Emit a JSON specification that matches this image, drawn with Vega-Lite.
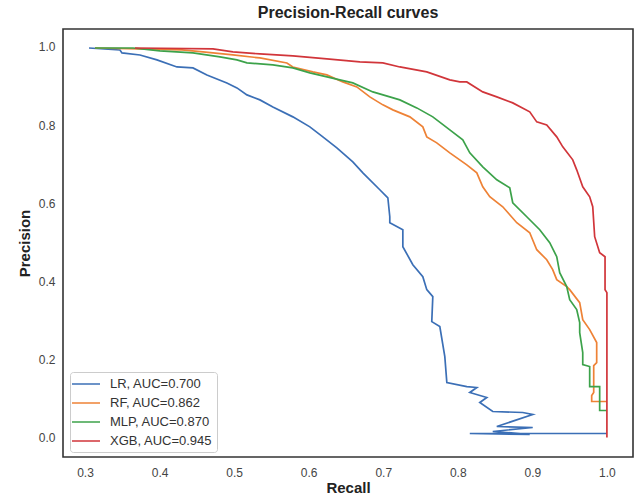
{
  "$schema": "https://vega.github.io/schema/vega-lite/v6.json",
  "width": 570,
  "height": 428,
  "autosize": "none",
  "padding": {"left": 63, "top": 29, "right": 2, "bottom": 43},
  "background": "white",
  "config": {
    "font": "Liberation Sans",
    "view": {"stroke": "#333333", "strokeWidth": 1.6},
    "axis": {"grid": false, "ticks": false, "domain": false, "labelFont": "Liberation Sans", "labelFontSize": 12, "labelColor": "#444444", "titleFont": "Liberation Sans", "titleFontSize": 15, "titleFontWeight": "bold", "titleColor": "#222222"}
  },
  "title": {"text": "Precision-Recall curves", "font": "Liberation Sans", "fontSize": 16, "fontWeight": "bold", "color": "#222222", "offset": 8},
  "data": {"values": [
    {"model": "LR, AUC=0.700", "i": 1, "recall": 0.3054, "precision": 0.9974},
    {"model": "LR, AUC=0.700", "i": 2, "recall": 0.3469, "precision": 0.9923},
    {"model": "LR, AUC=0.700", "i": 3, "recall": 0.3496, "precision": 0.9847},
    {"model": "LR, AUC=0.700", "i": 4, "recall": 0.3737, "precision": 0.9795},
    {"model": "LR, AUC=0.700", "i": 5, "recall": 0.3965, "precision": 0.9668},
    {"model": "LR, AUC=0.700", "i": 6, "recall": 0.4233, "precision": 0.9488},
    {"model": "LR, AUC=0.700", "i": 7, "recall": 0.4448, "precision": 0.9463},
    {"model": "LR, AUC=0.700", "i": 8, "recall": 0.4635, "precision": 0.9284},
    {"model": "LR, AUC=0.700", "i": 9, "recall": 0.4903, "precision": 0.9079},
    {"model": "LR, AUC=0.700", "i": 10, "recall": 0.5038, "precision": 0.8951},
    {"model": "LR, AUC=0.700", "i": 11, "recall": 0.5172, "precision": 0.8772},
    {"model": "LR, AUC=0.700", "i": 12, "recall": 0.5346, "precision": 0.8645},
    {"model": "LR, AUC=0.700", "i": 13, "recall": 0.5520, "precision": 0.8465},
    {"model": "LR, AUC=0.700", "i": 14, "recall": 0.5788, "precision": 0.8210},
    {"model": "LR, AUC=0.700", "i": 15, "recall": 0.6016, "precision": 0.7954},
    {"model": "LR, AUC=0.700", "i": 16, "recall": 0.6190, "precision": 0.7698},
    {"model": "LR, AUC=0.700", "i": 17, "recall": 0.6378, "precision": 0.7417},
    {"model": "LR, AUC=0.700", "i": 18, "recall": 0.6592, "precision": 0.7059},
    {"model": "LR, AUC=0.700", "i": 19, "recall": 0.6727, "precision": 0.6777},
    {"model": "LR, AUC=0.700", "i": 20, "recall": 0.6954, "precision": 0.6343},
    {"model": "LR, AUC=0.700", "i": 21, "recall": 0.7062, "precision": 0.6138},
    {"model": "LR, AUC=0.700", "i": 22, "recall": 0.7088, "precision": 0.5652},
    {"model": "LR, AUC=0.700", "i": 23, "recall": 0.7088, "precision": 0.5499},
    {"model": "LR, AUC=0.700", "i": 24, "recall": 0.7263, "precision": 0.5320},
    {"model": "LR, AUC=0.700", "i": 25, "recall": 0.7263, "precision": 0.4885},
    {"model": "LR, AUC=0.700", "i": 26, "recall": 0.7397, "precision": 0.4425},
    {"model": "LR, AUC=0.700", "i": 27, "recall": 0.7531, "precision": 0.4118},
    {"model": "LR, AUC=0.700", "i": 28, "recall": 0.7584, "precision": 0.3785},
    {"model": "LR, AUC=0.700", "i": 29, "recall": 0.7665, "precision": 0.3606},
    {"model": "LR, AUC=0.700", "i": 30, "recall": 0.7651, "precision": 0.2967},
    {"model": "LR, AUC=0.700", "i": 31, "recall": 0.7759, "precision": 0.2839},
    {"model": "LR, AUC=0.700", "i": 32, "recall": 0.7826, "precision": 0.2072},
    {"model": "LR, AUC=0.700", "i": 33, "recall": 0.7853, "precision": 0.1407},
    {"model": "LR, AUC=0.700", "i": 34, "recall": 0.8121, "precision": 0.1304},
    {"model": "LR, AUC=0.700", "i": 35, "recall": 0.8255, "precision": 0.1279},
    {"model": "LR, AUC=0.700", "i": 36, "recall": 0.8161, "precision": 0.1151},
    {"model": "LR, AUC=0.700", "i": 37, "recall": 0.8389, "precision": 0.1023},
    {"model": "LR, AUC=0.700", "i": 38, "recall": 0.8295, "precision": 0.0895},
    {"model": "LR, AUC=0.700", "i": 39, "recall": 0.8469, "precision": 0.0665},
    {"model": "LR, AUC=0.700", "i": 40, "recall": 0.8871, "precision": 0.0639},
    {"model": "LR, AUC=0.700", "i": 41, "recall": 0.9005, "precision": 0.0588},
    {"model": "LR, AUC=0.700", "i": 42, "recall": 0.8523, "precision": 0.0281},
    {"model": "LR, AUC=0.700", "i": 43, "recall": 0.9005, "precision": 0.0256},
    {"model": "LR, AUC=0.700", "i": 44, "recall": 0.8469, "precision": 0.0153},
    {"model": "LR, AUC=0.700", "i": 45, "recall": 0.8965, "precision": 0.0077},
    {"model": "LR, AUC=0.700", "i": 46, "recall": 0.8161, "precision": 0.0102},
    {"model": "LR, AUC=0.700", "i": 47, "recall": 1.0, "precision": 0.0102},

    {"model": "RF, AUC=0.862", "i": 1, "recall": 0.3134, "precision": 0.9974},
    {"model": "RF, AUC=0.862", "i": 2, "recall": 0.4300, "precision": 0.9923},
    {"model": "RF, AUC=0.862", "i": 3, "recall": 0.4582, "precision": 0.9872},
    {"model": "RF, AUC=0.862", "i": 4, "recall": 0.4984, "precision": 0.9795},
    {"model": "RF, AUC=0.862", "i": 5, "recall": 0.5346, "precision": 0.9719},
    {"model": "RF, AUC=0.862", "i": 6, "recall": 0.5708, "precision": 0.9591},
    {"model": "RF, AUC=0.862", "i": 7, "recall": 0.5788, "precision": 0.9488},
    {"model": "RF, AUC=0.862", "i": 8, "recall": 0.6056, "precision": 0.9361},
    {"model": "RF, AUC=0.862", "i": 9, "recall": 0.6244, "precision": 0.9284},
    {"model": "RF, AUC=0.862", "i": 10, "recall": 0.6458, "precision": 0.9105},
    {"model": "RF, AUC=0.862", "i": 11, "recall": 0.6646, "precision": 0.8977},
    {"model": "RF, AUC=0.862", "i": 12, "recall": 0.6820, "precision": 0.8721},
    {"model": "RF, AUC=0.862", "i": 13, "recall": 0.6995, "precision": 0.8517},
    {"model": "RF, AUC=0.862", "i": 14, "recall": 0.7129, "precision": 0.8389},
    {"model": "RF, AUC=0.862", "i": 15, "recall": 0.7357, "precision": 0.8210},
    {"model": "RF, AUC=0.862", "i": 16, "recall": 0.7531, "precision": 0.7954},
    {"model": "RF, AUC=0.862", "i": 17, "recall": 0.7584, "precision": 0.7698},
    {"model": "RF, AUC=0.862", "i": 18, "recall": 0.7718, "precision": 0.7545},
    {"model": "RF, AUC=0.862", "i": 19, "recall": 0.7893, "precision": 0.7289},
    {"model": "RF, AUC=0.862", "i": 20, "recall": 0.8121, "precision": 0.6982},
    {"model": "RF, AUC=0.862", "i": 21, "recall": 0.8255, "precision": 0.6777},
    {"model": "RF, AUC=0.862", "i": 22, "recall": 0.8335, "precision": 0.6419},
    {"model": "RF, AUC=0.862", "i": 23, "recall": 0.8429, "precision": 0.6164},
    {"model": "RF, AUC=0.862", "i": 24, "recall": 0.8603, "precision": 0.5908},
    {"model": "RF, AUC=0.862", "i": 25, "recall": 0.8791, "precision": 0.5499},
    {"model": "RF, AUC=0.862", "i": 26, "recall": 0.8965, "precision": 0.5243},
    {"model": "RF, AUC=0.862", "i": 27, "recall": 0.9059, "precision": 0.4808},
    {"model": "RF, AUC=0.862", "i": 28, "recall": 0.9193, "precision": 0.4552},
    {"model": "RF, AUC=0.862", "i": 29, "recall": 0.9273, "precision": 0.4297},
    {"model": "RF, AUC=0.862", "i": 30, "recall": 0.9327, "precision": 0.4041},
    {"model": "RF, AUC=0.862", "i": 31, "recall": 0.9461, "precision": 0.3862},
    {"model": "RF, AUC=0.862", "i": 32, "recall": 0.9501, "precision": 0.3785},
    {"model": "RF, AUC=0.862", "i": 33, "recall": 0.9635, "precision": 0.3453},
    {"model": "RF, AUC=0.862", "i": 34, "recall": 0.9676, "precision": 0.3018},
    {"model": "RF, AUC=0.862", "i": 35, "recall": 0.9769, "precision": 0.2762},
    {"model": "RF, AUC=0.862", "i": 36, "recall": 0.9863, "precision": 0.2430},
    {"model": "RF, AUC=0.862", "i": 37, "recall": 0.9863, "precision": 0.1918},
    {"model": "RF, AUC=0.862", "i": 38, "recall": 0.9823, "precision": 0.1841},
    {"model": "RF, AUC=0.862", "i": 39, "recall": 0.9823, "precision": 0.1151},
    {"model": "RF, AUC=0.862", "i": 40, "recall": 0.9796, "precision": 0.1074},
    {"model": "RF, AUC=0.862", "i": 41, "recall": 0.9796, "precision": 0.0921},
    {"model": "RF, AUC=0.862", "i": 42, "recall": 1.0, "precision": 0.0921},

    {"model": "MLP, AUC=0.870", "i": 1, "recall": 0.3134, "precision": 0.9974},
    {"model": "MLP, AUC=0.870", "i": 2, "recall": 0.3643, "precision": 0.9974},
    {"model": "MLP, AUC=0.870", "i": 3, "recall": 0.4005, "precision": 0.9898},
    {"model": "MLP, AUC=0.870", "i": 4, "recall": 0.4448, "precision": 0.9847},
    {"model": "MLP, AUC=0.870", "i": 5, "recall": 0.4810, "precision": 0.9744},
    {"model": "MLP, AUC=0.870", "i": 6, "recall": 0.5038, "precision": 0.9668},
    {"model": "MLP, AUC=0.870", "i": 7, "recall": 0.5172, "precision": 0.9591},
    {"model": "MLP, AUC=0.870", "i": 8, "recall": 0.5520, "precision": 0.9540},
    {"model": "MLP, AUC=0.870", "i": 9, "recall": 0.5788, "precision": 0.9463},
    {"model": "MLP, AUC=0.870", "i": 10, "recall": 0.6016, "precision": 0.9335},
    {"model": "MLP, AUC=0.870", "i": 11, "recall": 0.6418, "precision": 0.9156},
    {"model": "MLP, AUC=0.870", "i": 12, "recall": 0.6592, "precision": 0.9079},
    {"model": "MLP, AUC=0.870", "i": 13, "recall": 0.6861, "precision": 0.8849},
    {"model": "MLP, AUC=0.870", "i": 14, "recall": 0.7088, "precision": 0.8721},
    {"model": "MLP, AUC=0.870", "i": 15, "recall": 0.7223, "precision": 0.8645},
    {"model": "MLP, AUC=0.870", "i": 16, "recall": 0.7450, "precision": 0.8440},
    {"model": "MLP, AUC=0.870", "i": 17, "recall": 0.7665, "precision": 0.8210},
    {"model": "MLP, AUC=0.870", "i": 18, "recall": 0.7893, "precision": 0.7877},
    {"model": "MLP, AUC=0.870", "i": 19, "recall": 0.8067, "precision": 0.7621},
    {"model": "MLP, AUC=0.870", "i": 20, "recall": 0.8161, "precision": 0.7289},
    {"model": "MLP, AUC=0.870", "i": 21, "recall": 0.8335, "precision": 0.6931},
    {"model": "MLP, AUC=0.870", "i": 22, "recall": 0.8523, "precision": 0.6598},
    {"model": "MLP, AUC=0.870", "i": 23, "recall": 0.8697, "precision": 0.6394},
    {"model": "MLP, AUC=0.870", "i": 24, "recall": 0.8737, "precision": 0.6010},
    {"model": "MLP, AUC=0.870", "i": 25, "recall": 0.8925, "precision": 0.5652},
    {"model": "MLP, AUC=0.870", "i": 26, "recall": 0.9099, "precision": 0.5320},
    {"model": "MLP, AUC=0.870", "i": 27, "recall": 0.9233, "precision": 0.4987},
    {"model": "MLP, AUC=0.870", "i": 28, "recall": 0.9327, "precision": 0.4629},
    {"model": "MLP, AUC=0.870", "i": 29, "recall": 0.9367, "precision": 0.4220},
    {"model": "MLP, AUC=0.870", "i": 30, "recall": 0.9461, "precision": 0.3862},
    {"model": "MLP, AUC=0.870", "i": 31, "recall": 0.9501, "precision": 0.3529},
    {"model": "MLP, AUC=0.870", "i": 32, "recall": 0.9595, "precision": 0.3274},
    {"model": "MLP, AUC=0.870", "i": 33, "recall": 0.9635, "precision": 0.2941},
    {"model": "MLP, AUC=0.870", "i": 34, "recall": 0.9635, "precision": 0.2685},
    {"model": "MLP, AUC=0.870", "i": 35, "recall": 0.9676, "precision": 0.2174},
    {"model": "MLP, AUC=0.870", "i": 36, "recall": 0.9676, "precision": 0.1867},
    {"model": "MLP, AUC=0.870", "i": 37, "recall": 0.9769, "precision": 0.1816},
    {"model": "MLP, AUC=0.870", "i": 38, "recall": 0.9769, "precision": 0.1304},
    {"model": "MLP, AUC=0.870", "i": 39, "recall": 0.9903, "precision": 0.1304},
    {"model": "MLP, AUC=0.870", "i": 40, "recall": 0.9903, "precision": 0.0691},
    {"model": "MLP, AUC=0.870", "i": 41, "recall": 1.0, "precision": 0.0691},

    {"model": "XGB, AUC=0.945", "i": 1, "recall": 0.3670, "precision": 0.9974},
    {"model": "XGB, AUC=0.945", "i": 2, "recall": 0.4716, "precision": 0.9949},
    {"model": "XGB, AUC=0.945", "i": 3, "recall": 0.4984, "precision": 0.9872},
    {"model": "XGB, AUC=0.945", "i": 4, "recall": 0.5346, "precision": 0.9821},
    {"model": "XGB, AUC=0.945", "i": 5, "recall": 0.5788, "precision": 0.9770},
    {"model": "XGB, AUC=0.945", "i": 6, "recall": 0.6244, "precision": 0.9693},
    {"model": "XGB, AUC=0.945", "i": 7, "recall": 0.6686, "precision": 0.9616},
    {"model": "XGB, AUC=0.945", "i": 8, "recall": 0.6995, "precision": 0.9591},
    {"model": "XGB, AUC=0.945", "i": 9, "recall": 0.7223, "precision": 0.9488},
    {"model": "XGB, AUC=0.945", "i": 10, "recall": 0.7584, "precision": 0.9361},
    {"model": "XGB, AUC=0.945", "i": 11, "recall": 0.7893, "precision": 0.9156},
    {"model": "XGB, AUC=0.945", "i": 12, "recall": 0.8027, "precision": 0.9105},
    {"model": "XGB, AUC=0.945", "i": 13, "recall": 0.8121, "precision": 0.9105},
    {"model": "XGB, AUC=0.945", "i": 14, "recall": 0.8335, "precision": 0.8849},
    {"model": "XGB, AUC=0.945", "i": 15, "recall": 0.8523, "precision": 0.8721},
    {"model": "XGB, AUC=0.945", "i": 16, "recall": 0.8737, "precision": 0.8568},
    {"model": "XGB, AUC=0.945", "i": 17, "recall": 0.8965, "precision": 0.8338},
    {"model": "XGB, AUC=0.945", "i": 18, "recall": 0.9059, "precision": 0.8082},
    {"model": "XGB, AUC=0.945", "i": 19, "recall": 0.9193, "precision": 0.8005},
    {"model": "XGB, AUC=0.945", "i": 20, "recall": 0.9327, "precision": 0.7698},
    {"model": "XGB, AUC=0.945", "i": 21, "recall": 0.9408, "precision": 0.7442},
    {"model": "XGB, AUC=0.945", "i": 22, "recall": 0.9542, "precision": 0.7110},
    {"model": "XGB, AUC=0.945", "i": 23, "recall": 0.9595, "precision": 0.6854},
    {"model": "XGB, AUC=0.945", "i": 24, "recall": 0.9676, "precision": 0.6419},
    {"model": "XGB, AUC=0.945", "i": 25, "recall": 0.9769, "precision": 0.6164},
    {"model": "XGB, AUC=0.945", "i": 26, "recall": 0.9810, "precision": 0.5908},
    {"model": "XGB, AUC=0.945", "i": 27, "recall": 0.9836, "precision": 0.5141},
    {"model": "XGB, AUC=0.945", "i": 28, "recall": 0.9903, "precision": 0.4731},
    {"model": "XGB, AUC=0.945", "i": 29, "recall": 0.9975, "precision": 0.4629},
    {"model": "XGB, AUC=0.945", "i": 30, "recall": 0.9975, "precision": 0.3785},
    {"model": "XGB, AUC=0.945", "i": 31, "recall": 1.0, "precision": 0.3708},
    {"model": "XGB, AUC=0.945", "i": 32, "recall": 1.0, "precision": 0.0}
  ]},
  "mark": {"type": "line", "strokeWidth": 1.7, "interpolate": "linear"},
  "encoding": {
    "x": {"field": "recall", "type": "quantitative", "title": "Recall",
          "scale": {"domain": [0.2705, 1.035], "nice": false, "zero": false},
          "axis": {"values": [0.3, 0.4, 0.5, 0.6, 0.7, 0.8, 0.9, 1.0], "format": ".1f", "labelPadding": 10, "titlePadding": 2}},
    "y": {"field": "precision", "type": "quantitative", "title": "Precision",
          "scale": {"domain": [-0.05, 1.046], "nice": false, "zero": false},
          "axis": {"values": [0, 0.2, 0.4, 0.6, 0.8, 1.0], "format": ".1f", "labelPadding": 8, "titlePadding": 6}},
    "color": {"field": "model", "type": "nominal",
              "scale": {"domain": ["LR, AUC=0.700", "RF, AUC=0.862", "MLP, AUC=0.870", "XGB, AUC=0.945"], "range": ["#3b6fb6", "#ee8236", "#3ca24a", "#d1353a"]},
              "legend": {"title": null, "orient": "none", "legendX": 7, "legendY": 343, "symbolType": "M-2,0H2", "symbolSize": 196, "symbolStrokeWidth": 1.5, "symbolOffset": 4, "labelOffset": 16, "labelFontSize": 13, "labelColor": "#333333", "labelFont": "Liberation Sans", "rowPadding": 4, "padding": 4, "fillColor": "white", "strokeColor": "#cccccc", "cornerRadius": 3}},
    "order": {"field": "i", "type": "quantitative"}
  }
}
